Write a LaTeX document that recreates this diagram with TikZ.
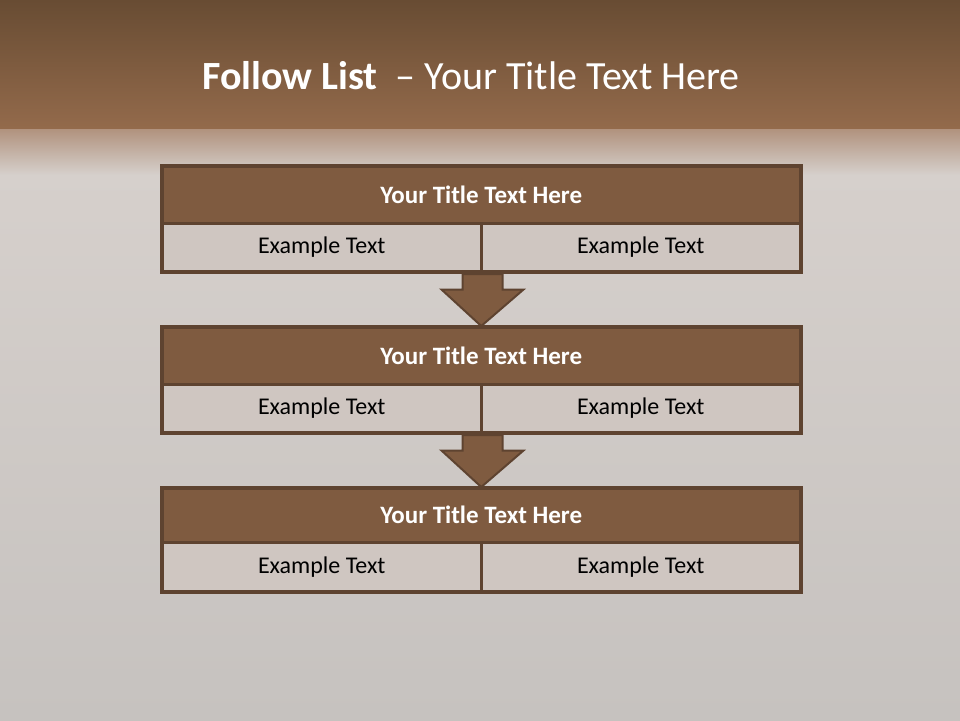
\documentclass[tikz,border=0pt]{standalone}
\usepackage{fontspec}
\setmainfont{Carlito}
\usetikzlibrary{calc}
\definecolor{bandtop}{HTML}{684C33}
\definecolor{bandbot}{HTML}{936A4B}
\definecolor{fadetop}{HTML}{B0917C}
\definecolor{bglight}{HTML}{D6D0CC}
\definecolor{bglow}{HTML}{C6C2BF}
\definecolor{titlefill}{HTML}{7F5B40}
\definecolor{edge}{HTML}{5E4330}
\definecolor{cellfill}{HTML}{CFC6C1}
\tikzset{
  rowtitle/.style={draw=edge, line width=2.5pt, fill=titlefill, minimum width=638pt, minimum height=#1, inner sep=0pt, text=white, font=\fontsize{25}{30}\selectfont\bfseries, anchor=north west},
  cell/.style={draw=edge, line width=2.5pt, fill=cellfill, minimum width=319pt, minimum height=#1, inner sep=0pt, text=black, font=\fontsize{24}{29}\selectfont, anchor=north west},
  downarrow/.style={draw=edge, line width=2pt, fill=titlefill, line join=miter}
}
\begin{document}
\begin{tikzpicture}[x=1pt,y=-1pt]
\useasboundingbox (0,0) rectangle (960,720);
% background
\shade[bottom color=bglow, top color=bglight] (0,170) rectangle (960,720);
\shade[top color=fadetop, bottom color=bglight] (0,128) rectangle (960,175);
\shade[top color=bandtop, bottom color=bandbot] (0,0) rectangle (960,128);
% title
\node[text=white, font=\fontsize{40}{46}\selectfont, anchor=center] (maintitle) at (471,76) {\textbf{Follow List}\ \ – Your Title Text Here};
% block 1
\node[rowtitle=57pt] (t1) at (161,165) {Your Title Text Here};
\node[cell=48pt] (a1) at (161,222) {Example Text};
\node[cell=48pt] (b1) at (480,222) {Example Text};
% block 2
\node[rowtitle=57pt] (t2) at (161,326) {Your Title Text Here};
\node[cell=48pt] (a2) at (161,383) {Example Text};
\node[cell=48pt] (b2) at (480,383) {Example Text};
% block 3
\node[rowtitle=54pt] (t3) at (161,487) {Your Title Text Here};
\node[cell=49pt] (a3) at (161,541) {Example Text};
\node[cell=49pt] (b3) at (480,541) {Example Text};
% redraw outer borders
\draw[edge, line width=3pt] (t1.north west) rectangle (b1.south east);
\draw[edge, line width=3pt] (t2.north west) rectangle (b2.south east);
\draw[edge, line width=3pt] (t3.north west) rectangle (b3.south east);
% arrows
\coordinate (s1) at (a1.south east);
\coordinate (s2) at (a2.south east);
\draw[downarrow] ($(s1)+(-20,1.5)$) -- ($(s1)+(20,1.5)$) -- ($(s1)+(20,17)$) -- ($(s1)+(41,17)$) -- (t2.north) -- ($(s1)+(-41,17)$) -- ($(s1)+(-20,17)$) -- cycle;
\draw[downarrow] ($(s2)+(-20,1.5)$) -- ($(s2)+(20,1.5)$) -- ($(s2)+(20,17)$) -- ($(s2)+(41,17)$) -- (t3.north) -- ($(s2)+(-41,17)$) -- ($(s2)+(-20,17)$) -- cycle;
\end{tikzpicture}
\end{document}
